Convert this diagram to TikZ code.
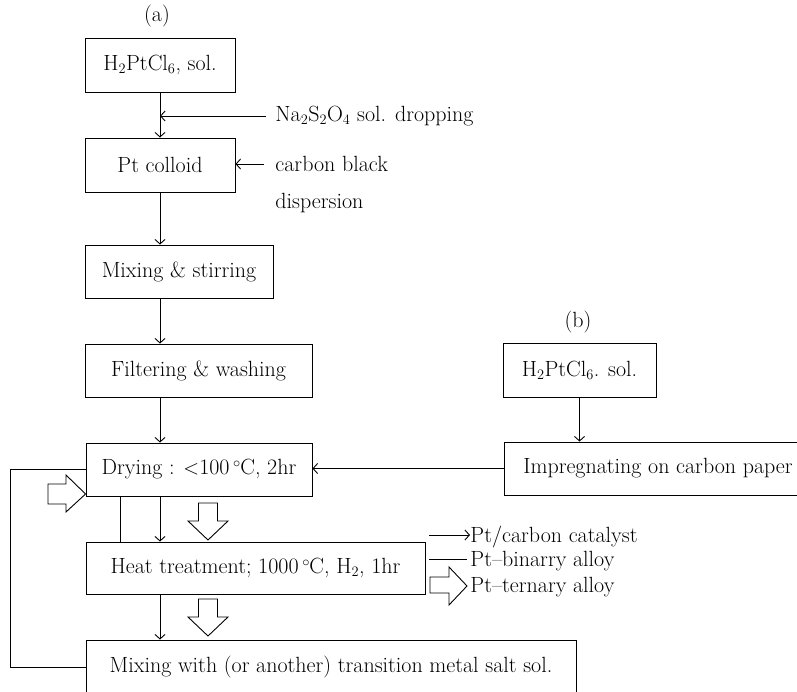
\documentclass[tikz,border=0pt]{standalone}
\usepackage{fontspec}
\usetikzlibrary{arrows.meta}
\newcommand{\degc}{\,$^{\circ}$\kern-0.5pt C}
\begin{document}
\begin{tikzpicture}[x=1pt,y=-1pt,line width=0.9pt,
  every node/.style={font=\fontsize{22}{26}\selectfont},
  box/.style={draw, inner sep=0pt},
  lab/.style={anchor=west, inner sep=0pt},
  arr/.style={-{Straight Barb[length=4.5pt,width=10pt,line width=0.9pt]}},
  hollow/.style={draw, line width=0.9pt, fill=white}]
\useasboundingbox (0,0) rectangle (797,692);
\clip (0,0) rectangle (797,692);
% (a) column
\node (la) at (157,16) {(a)};
\node[box, minimum width=150pt, minimum height=54pt] (b1) at (160,65) {H$_2$PtCl$_6$, sol.};
\node[box, minimum width=150pt, minimum height=54pt] (b2) at (160,165) {Pt colloid};
\node[box, minimum width=188pt, minimum height=53pt] (b3) at (179,271.5) {Mixing \& stirring};
\node[box, minimum width=227pt, minimum height=53pt] (b4) at (198.5,370.5) {Filtering \& washing};
\node[box, minimum width=226pt, minimum height=53pt] (b5) at (199,469.5) {Drying : $<$100\degc, 2hr};
\node[box, minimum width=339pt, minimum height=52pt] (b6) at (255.5,568) {Heat treatment; 1000\degc, H$_2$, 1hr};
\node[box, minimum width=490pt, minimum height=54pt] (b7) at (331,667) {Mixing with (or another) transition metal salt sol.};
% (b) column
\node (lb) at (578,322) {(b)};
\node[box, minimum width=153pt, minimum height=54pt] (c1) at (579.5,370) {H$_2$PtCl$_6$. sol.};
\node[box, minimum width=308pt, minimum height=53pt] (c2) at (658,468.5) {Impregnating on carbon paper};
% side labels
\node[lab] (na) at (275,116) {Na$_2$S$_2$O$_4$ sol. dropping};
\node[lab] (cb) at (275,164) {carbon black};
\node[lab] (dp) at (275,203) {dispersion};
\coordinate (naend) at (266,116);
\coordinate (cbend) at (264,164);
\coordinate (colx) at (160,0);
\coordinate (lx) at (120,0);
\coordinate (loopx) at (10,0);
% main connectors
\draw[arr] (b1.south) -- (b2.north);
\draw[arr] (naend) -- (naend -| b1.south);
\draw[arr] (cbend) -- (cbend -| b2.east);
\draw[arr] (b2.south) -- (colx |- b3.north);
\draw[arr] (colx |- b3.south) -- (colx |- b4.north);
\draw[arr] (colx |- b4.south) -- (colx |- b5.north);
\draw[arr] (colx |- b5.south) -- (colx |- b6.north);
\draw (lx |- b5.south) -- (lx |- b6.north);
\draw[arr] (colx |- b6.south) -- (colx |- b7.north);
\draw (b7.west) -- (loopx |- b7.west) -- (loopx |- b5.west) -- (b5.west);
\draw[arr] (c1.south) -- (c1.south |- c2.north);
\draw[arr] (c2.west) -- (c2.west -| b5.east);
% hollow arrows
\draw[hollow] (198.5,503) -- (217.5,503) -- (217.5,521) -- (228,521) -- (208,540) -- (188,521) -- (198.5,521) -- cycle;
\draw[hollow] (198.5,599) -- (217.5,599) -- (217.5,617) -- (228,617) -- (208,636) -- (188,617) -- (198.5,617) -- cycle;
\draw[hollow] (48,484) -- (66,484) -- (66,475) -- (b5.west |- 0,494) -- (66,512) -- (66,504) -- (48,504) -- cycle;
% legend
\node[lab] (l1) at (470,537) {Pt/carbon catalyst};
\node[lab] (l2) at (470,561) {Pt--binarry alloy};
\node[lab] (l3) at (470,587) {Pt--ternary alloy};
\coordinate (s1) at (429,535);
\coordinate (s2) at (429,559);
\draw[arr] (s1) -- (l1.west |- s1);
\draw (s2) -- ([xshift=-3pt]l2.west |- s2);
\draw[hollow] (430,577) -- (449,577) -- (449,567) -- (467,586) -- (449,605) -- (449,593) -- (430,593) -- cycle;
\end{tikzpicture}
\end{document}
